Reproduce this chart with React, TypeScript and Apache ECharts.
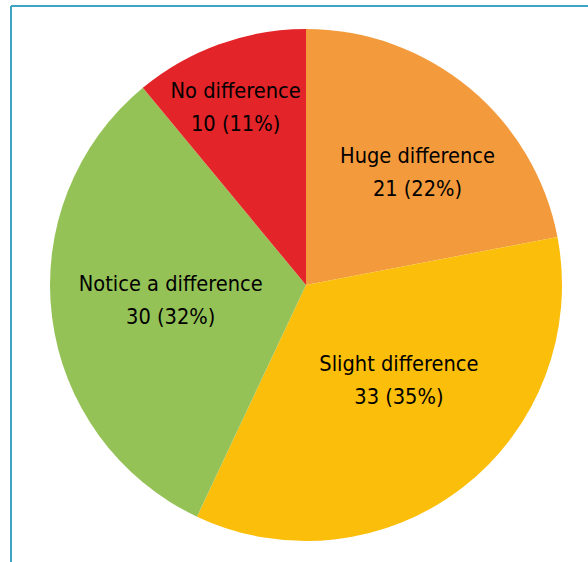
import React, { useEffect, useRef } from "react";
import * as echarts from "echarts";

const categories = ["Huge difference", "Slight difference", "Notice a difference", "No difference"];
const counts = [21, 33, 30, 10];
const percents = [22, 35, 32, 11];
const colors = ["#F39A3C", "#FBBE0A", "#95C257", "#E32428"];
const labelShift = [
  [28, -12],
  [12.6, -8.2],
  [-5.3, -1],
  [-26, -54.6],
];

export default function App() {
  const ref = useRef<HTMLDivElement>(null);
  useEffect(() => {
    document.body.style.margin = "0";
    const chart = echarts.init(ref.current!, null, { renderer: "svg" });
    chart.setOption({
      animation: false,
      backgroundColor: "#ffffff",
      graphic: [
        { type: "line", shape: { x1: 11, y1: 6, x2: 588, y2: 6 }, style: { stroke: "#3FA3C3", lineWidth: 2 } },
        { type: "line", shape: { x1: 11, y1: 6, x2: 11, y2: 562 }, style: { stroke: "#3FA3C3", lineWidth: 2 } },
      ],
      series: [
        {
          type: "pie",
          center: [306, 285],
          radius: [0, 256],
          startAngle: 90,
          clockwise: true,
          avoidLabelOverlap: false,
          data: categories.map((name, i) => ({
            name,
            value: percents[i],
            itemStyle: { color: colors[i] },
          })),
          label: {
            show: true,
            position: "inside",
            formatter: (p: any) => `${p.name}\n${counts[p.dataIndex]} (${percents[p.dataIndex]}%)`,
            fontFamily: "'Liberation Sans Narrow', 'DejaVu Sans Condensed', sans-serif",
            fontSize: 21.6,
            lineHeight: 33,
            color: "#000000",
          },
          labelLayout: (params: any) => ({
            dx: labelShift[params.dataIndex][0],
            dy: labelShift[params.dataIndex][1],
          }),
          labelLine: { show: false },
          emphasis: { disabled: true },
        },
      ],
    });
    return () => chart.dispose();
  }, []);
  return <div ref={ref} style={{ width: 588, height: 562 }} />;
}
